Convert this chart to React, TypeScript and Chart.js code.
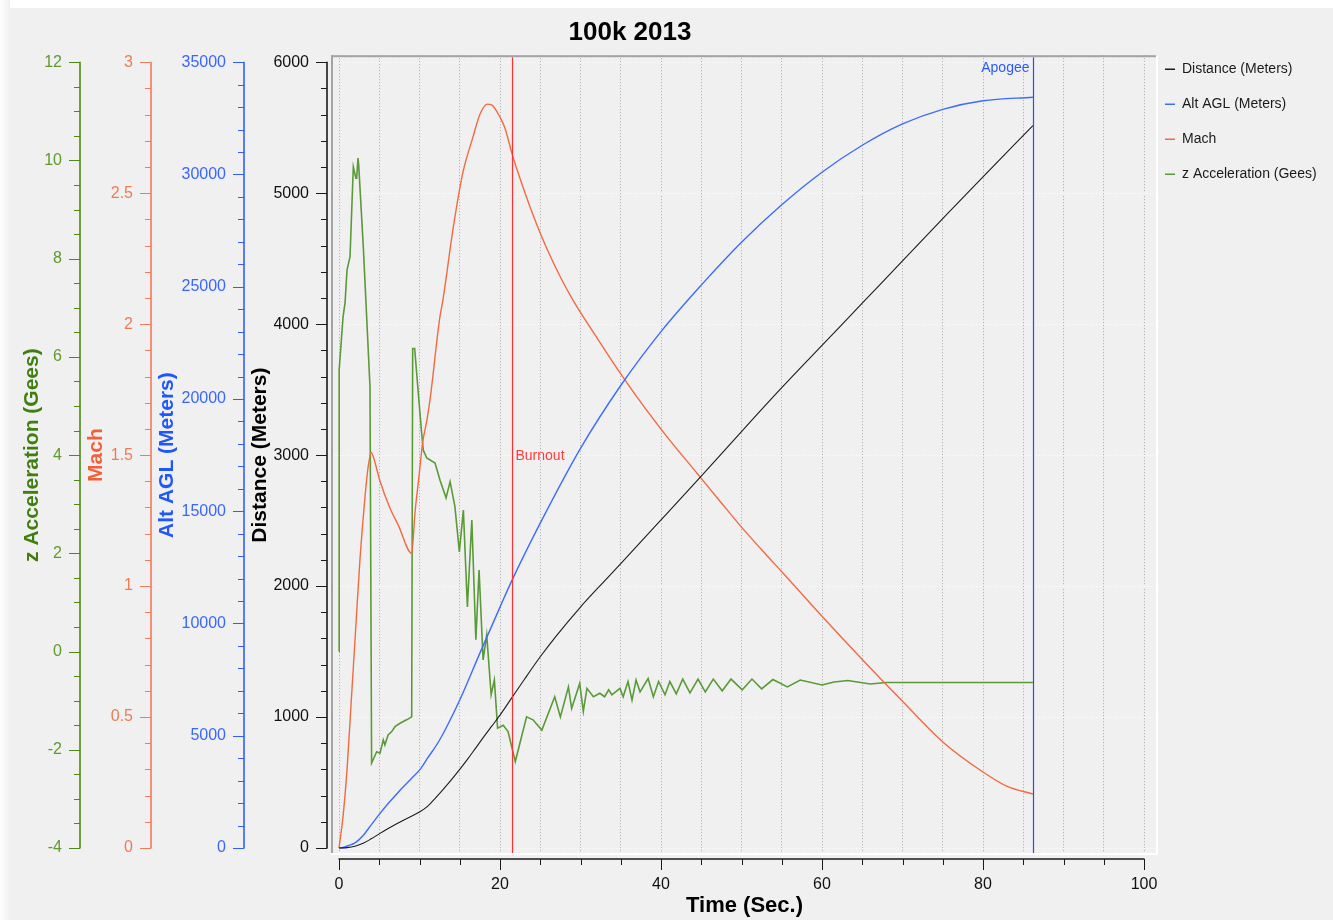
import React, { useEffect, useRef } from "react";
import { Chart, registerables } from "chart.js";

Chart.register(...registerables);

const FONT = "'Liberation Sans', Arial, Helvetica, sans-serif";

// ---------------- data ----------------
const chartTitle = "100k 2013";
const burnoutTime = 21.5;
const apogeeTime = 86.2;

const distanceTime = [0, 1, 2, 3, 4, 5, 6, 7, 8, 9, 10, 11, 12, 13, 14, 15, 16, 17, 18, 19, 20, 21.5, 23, 25, 27, 30, 33, 35, 40, 45, 50, 55, 60, 65, 70, 75, 80, 86.2];
const distanceValues = [0, 3, 14, 36, 70, 108, 145, 180, 212, 243, 275, 318, 383, 452, 524, 600, 680, 765, 850, 932, 1015, 1150, 1285, 1460, 1620, 1840, 2040, 2172, 2505, 2840, 3180, 3515, 3838, 4160, 4483, 4805, 5125, 5515];

const altTime = [0, 0.5, 1, 2, 3, 4, 5, 6, 7, 8, 9, 10, 11, 12.5, 15, 17.5, 20, 21.5, 25, 30, 35, 40, 45, 50, 55, 60, 65, 70, 75, 80, 86.2];
const altValues = [0, 20, 90, 230, 560, 1030, 1500, 1940, 2340, 2730, 3100, 3470, 4000, 4810, 6590, 8680, 10730, 11930, 14470, 17800, 20600, 23000, 25070, 26980, 28650, 30100, 31300, 32250, 32900, 33280, 33440];

const machTime = [0, 0.5, 1, 1.5, 2, 2.6, 3.2, 3.6, 4, 4.3, 5.1, 6.3, 7.4, 9.03, 9.44, 9.94, 10.4, 10.9, 11.3, 12.5, 12.9, 14.2, 15.4, 16.6, 17.5, 18.4, 19, 20, 20.6, 21.5, 22.5, 23.7, 24.7, 25.8, 27.5, 29.1, 32, 35, 38, 41, 44.5, 47.3, 50, 53.2, 55, 60, 65, 70, 75, 80, 83, 86.2];
const machValues = [0, 0.12, 0.3, 0.55, 0.8, 1.1, 1.33, 1.45, 1.51, 1.49, 1.4, 1.3, 1.23, 1.125, 1.28, 1.42, 1.55, 1.63, 1.71, 2.02, 2.09, 2.37, 2.58, 2.71, 2.8, 2.84, 2.836, 2.79, 2.75, 2.65, 2.555, 2.45, 2.37, 2.29, 2.18, 2.09, 1.95, 1.81, 1.68, 1.56, 1.43, 1.325, 1.225, 1.115, 1.055, 0.885, 0.72, 0.56, 0.405, 0.29, 0.235, 0.206];

const accelTime = [0, 0.02, 0.5, 0.75, 1.0, 1.37, 1.78, 2.1, 2.2, 2.36, 2.45, 3.02, 3.85, 4.05, 4.68, 5.09, 5.5, 5.7, 6.1, 6.55, 6.96, 7.58, 8.4, 9.03, 9.15, 9.4, 9.85, 10.27, 10.47, 10.9, 11.93, 12.55, 13.3, 13.8, 14.4, 14.95, 15.45, 15.95, 16.5, 17.0, 17.4, 17.9, 18.35, 18.9, 19.3, 19.7, 20.4, 21.0, 21.9, 23.3, 24.1, 25.2, 26.8, 27.5, 28.5, 28.9, 29.9, 30.35, 30.8, 31.6, 32.4, 33.0, 33.5, 33.9, 34.9, 35.3, 35.9, 36.4, 36.9, 37.4, 38.4, 39.05, 39.7, 40.5, 41.1, 41.9, 42.7, 43.6, 44.6, 45.5, 46.5, 47.6, 48.7, 50.1, 51.3, 52.5, 53.9, 55.7, 57.3, 60.0, 61.5, 63.2, 66.0, 68.0, 86.2];
const accelValues = [0.0, 5.73, 6.81, 7.1, 7.77, 8.04, 9.87, 9.64, 9.64, 10.05, 9.9, 8.24, 5.39, -2.27, -2.04, -2.07, -1.8, -1.9, -1.7, -1.63, -1.53, -1.46, -1.39, -1.33, 6.17, 6.17, 5.26, 4.44, 4.1, 3.94, 3.84, 3.49, 3.13, 3.46, 2.95, 2.03, 2.88, 0.91, 2.68, 0.24, 1.66, -0.17, 0.34, -0.88, -0.58, -1.56, -1.5, -1.63, -2.24, -1.33, -1.39, -1.6, -0.92, -1.33, -0.72, -1.16, -0.65, -1.22, -0.75, -0.92, -0.85, -0.92, -0.78, -0.88, -0.75, -0.92, -0.61, -0.99, -0.58, -0.82, -0.55, -0.92, -0.61, -0.88, -0.61, -0.86, -0.56, -0.84, -0.56, -0.82, -0.56, -0.8, -0.56, -0.78, -0.56, -0.76, -0.57, -0.72, -0.58, -0.68, -0.62, -0.59, -0.66, -0.63, -0.63];

// tick labels
const timeMajorTicks = [0, 20, 40, 60, 80, 100];
const distanceMajorTicks = [0, 1000, 2000, 3000, 4000, 5000, 6000];
const altMajorTicks = [0, 5000, 10000, 15000, 20000, 25000, 30000, 35000];
const machMajorTicks = [0, 0.5, 1, 1.5, 2, 2.5, 3];
const accelMajorTicks = [-4, -2, 0, 2, 4, 6, 8, 10, 12];

// ---------------- helpers ----------------
function subdivide(majors: number[], parts: number): number[] {
  const out: number[] = [];
  for (let i = 0; i < majors.length - 1; i++) {
    const a = majors[i];
    const b = majors[i + 1];
    for (let k = 0; k < parts; k++) out.push(+(a + ((b - a) * k) / parts).toFixed(6));
  }
  out.push(majors[majors.length - 1]);
  return out;
}
function isMajor(v: number, majors: number[]): boolean {
  return majors.some((m) => Math.abs(m - v) < 1e-6);
}

type YAxisSpec = {
  id: string;
  title: string;
  majors: number[];
  parts: number;
  axisColor: string;
  labelColor: string;
  titleColor: string;
  width: number;
  weight: number;
};

const yAxes: YAxisSpec[] = [
  { id: "yDist", title: "Distance (Meters)", majors: distanceMajorTicks, parts: 5, axisColor: "#1a1a1a", labelColor: "#111111", titleColor: "#000000", width: 83, weight: 1 },
  { id: "yAlt", title: "Alt AGL (Meters)", majors: altMajorTicks, parts: 5, axisColor: "#2f5fff", labelColor: "#3a66ff", titleColor: "#1f57ff", width: 93, weight: 2 },
  { id: "yMach", title: "Mach", majors: machMajorTicks, parts: 5, axisColor: "#f27a5a", labelColor: "#f07a55", titleColor: "#f2603a", width: 71, weight: 3 },
  { id: "yAccel", title: "z Acceleration (Gees)", majors: accelMajorTicks, parts: 4, axisColor: "#4a8c12", labelColor: "#5e9a2c", titleColor: "#3f7f10", width: 64, weight: 4 },
];

const PLOT_H = 800;
const AXIS_SPAN = 786;
const padFrac = (PLOT_H - AXIS_SPAN) / 2 / AXIS_SPAN;
const timeTicks = subdivide(timeMajorTicks, 4);

function yScale(spec: YAxisSpec) {
  const lo = spec.majors[0];
  const hi = spec.majors[spec.majors.length - 1];
  const pad = (hi - lo) * padFrac;
  const ticks = subdivide(spec.majors, spec.parts);
  const isDist = spec.id === "yDist";
  return {
    type: "linear",
    position: "left",
    weight: spec.weight,
    min: lo - pad,
    max: hi + pad,
    afterBuildTicks: (s: any) => {
      s.ticks = ticks.map((v) => ({ value: v }));
    },
    afterFit: (s: any) => {
      s.width = spec.width;
    },
    ticks: {
      autoSkip: false,
      padding: 22,
      color: spec.labelColor,
      font: { size: 16, family: FONT },
      callback: (v: any) => (isMajor(Number(v), spec.majors) ? String(+Number(v).toFixed(3)) : ""),
    },
    grid: isDist
      ? {
          display: true,
          drawTicks: false,
          drawOnChartArea: true,
          lineWidth: 1,
          color: (c: any) => (c.tick && isMajor(c.tick.value, spec.majors) ? "#ffffff" : "rgba(0,0,0,0)"),
        }
      : { display: false, drawTicks: false },
    border: { display: false, dash: [1, 2] },
    title: {
      display: true,
      text: spec.title,
      color: spec.titleColor,
      font: { size: 21, weight: "bold", family: FONT },
      padding: 0,
    },
  };
}

function pts(t: number[], v: number[]) {
  return t.map((x, i) => ({ x, y: v[i] }));
}

// ---------------- plugins ----------------
const placementPlugin = {
  id: "placement",
  afterLayout(chart: any) {
    const lg = chart.legend;
    if (lg) {
      const w = lg.width;
      const h = lg.height;
      lg.left = chart.chartArea.right - 14;
      lg.right = lg.left + w;
      lg.top = chart.chartArea.top - 14;
      lg.bottom = lg.top + h;
    }
    const tb = chart.titleBlock;
    if (tb) {
      const w = tb.right - tb.left;
      tb.left = 630 - w / 2;
      tb.right = tb.left + w;
    }
  },
};

const axesPlugin = {
  id: "qwtAxes",
  afterDraw(chart: any) {
    const ctx = chart.ctx;
    const ca = chart.chartArea;
    ctx.save();
    // frame
    ctx.fillStyle = "#a3a3a3";
    ctx.fillRect(ca.left, ca.top, ca.right - ca.left, 2);
    ctx.fillRect(ca.left, ca.top, 2, ca.bottom - ca.top);
    ctx.fillStyle = "#ffffff";
    ctx.fillRect(ca.left, ca.bottom - 2, ca.right - ca.left, 2);
    ctx.fillRect(ca.right - 2, ca.top, 2, ca.bottom - ca.top);

    // y axes
    for (const spec of yAxes) {
      const s = chart.scales[spec.id];
      const x = Math.round(s.right - 4);
      const ticks = subdivide(spec.majors, spec.parts);
      const y0 = s.getPixelForValue(spec.majors[0]);
      const y1 = s.getPixelForValue(spec.majors[spec.majors.length - 1]);
      ctx.strokeStyle = spec.axisColor;
      ctx.lineWidth = 1.6;
      ctx.beginPath();
      ctx.moveTo(x, y0 + 0.5);
      ctx.lineTo(x, y1 - 0.5);
      ctx.stroke();
      ctx.lineWidth = 1;
      ctx.beginPath();
      for (const v of ticks) {
        const y = Math.round(s.getPixelForValue(v)) + 0.5;
        const len = isMajor(v, spec.majors) ? 11 : 6;
        ctx.moveTo(x, y);
        ctx.lineTo(x - len, y);
      }
      ctx.stroke();
    }

    // x axis
    const xs = chart.scales.x;
    const yA = Math.round(ca.bottom + 4);
    ctx.strokeStyle = "#1a1a1a";
    ctx.lineWidth = 1.6;
    ctx.beginPath();
    ctx.moveTo(xs.getPixelForValue(timeMajorTicks[0]) - 0.5, yA);
    ctx.lineTo(xs.getPixelForValue(timeMajorTicks[timeMajorTicks.length - 1]) + 0.5, yA);
    ctx.stroke();
    ctx.lineWidth = 1;
    ctx.beginPath();
    for (const v of timeTicks) {
      const x = Math.round(xs.getPixelForValue(v)) + 0.5;
      const len = isMajor(v, timeMajorTicks) ? 11 : 6;
      ctx.moveTo(x, yA);
      ctx.lineTo(x, yA + len);
    }
    ctx.stroke();
    ctx.restore();
  },
};

const eventsPlugin = {
  id: "flightEvents",
  afterDatasetsDraw(chart: any) {
    const ctx = chart.ctx;
    const ca = chart.chartArea;
    const xs = chart.scales.x;
    ctx.save();
    const bx = Math.round(xs.getPixelForValue(burnoutTime)) + 0.5;
    ctx.strokeStyle = "#ff3030";
    ctx.lineWidth = 1.2;
    ctx.beginPath();
    ctx.moveTo(bx, ca.top + 2);
    ctx.lineTo(bx, ca.bottom - 2);
    ctx.stroke();
    ctx.fillStyle = "#ff3b3b";
    ctx.font = `14px ${FONT}`;
    ctx.textAlign = "left";
    ctx.textBaseline = "middle";
    ctx.fillText("Burnout", bx + 3, (ca.top + ca.bottom) / 2 + 1);

    const ax = Math.round(xs.getPixelForValue(apogeeTime)) + 0.5;
    ctx.strokeStyle = "#2050ff";
    ctx.beginPath();
    ctx.moveTo(ax, ca.top + 2);
    ctx.lineTo(ax, ca.bottom - 2);
    ctx.stroke();
    ctx.fillStyle = "#2a5aff";
    ctx.textAlign = "right";
    ctx.fillText("Apogee", ax - 4, ca.top + 13);
    ctx.restore();
  },
};

export default function App() {
  const ref = useRef<HTMLCanvasElement>(null);

  useEffect(() => {
    if (!ref.current) return;
    Chart.defaults.font.family = FONT;
    const scales: any = {
      x: {
        type: "linear",
        position: "bottom",
        min: (-100 * 8) / 805,
        max: 100 + (100 * 14) / 805,
        afterBuildTicks: (s: any) => {
          s.ticks = timeTicks.map((v) => ({ value: v }));
        },
        afterFit: (s: any) => {
          s.height = 65;
        },
        ticks: {
          autoSkip: false,
          maxRotation: 0,
          padding: 20,
          color: "#111111",
          font: { size: 16, family: FONT },
          callback: (v: any) => (isMajor(Number(v), timeMajorTicks) ? String(Number(v)) : ""),
        },
        grid: { display: true, drawTicks: false, drawOnChartArea: true, color: "#a8a8a8", lineWidth: 1 },
        border: { display: false, dash: [1, 2] },
        title: {
          display: true,
          text: "Time (Sec.)",
          color: "#000000",
          font: { size: 22, weight: "bold", family: FONT },
          padding: { top: 0, bottom: 1 },
        },
      },
    };
    for (const spec of yAxes) scales[spec.id] = yScale(spec);

    const smooth = { cubicInterpolationMode: "monotone" };
    const chart = new Chart(ref.current, {
      type: "line",
      data: {
        datasets: [
          { label: "Distance (Meters)", data: pts(distanceTime, distanceValues), yAxisID: "yDist", borderColor: "#1c1c1c", borderWidth: 1.1, pointBorderWidth: 1.5, ...smooth },
          { label: "Alt AGL (Meters)", data: pts(altTime, altValues), yAxisID: "yAlt", borderColor: "#3d6bff", borderWidth: 1.4, pointBorderWidth: 1.5, ...smooth },
          { label: "Mach", data: pts(machTime, machValues), yAxisID: "yMach", borderColor: "#f26a40", borderWidth: 1.4, pointBorderWidth: 1.5, ...smooth },
          { label: "z Acceleration (Gees)", data: pts(accelTime, accelValues), yAxisID: "yAccel", borderColor: "#5a9a38", borderWidth: 1.6, pointBorderWidth: 1.5 },
        ].map((d) => ({ ...d, pointRadius: 0, pointHoverRadius: 0, pointStyle: "line", fill: false })) as any,
      },
      options: {
        responsive: false,
        animation: false,
        devicePixelRatio: 1,
        events: [],
        layout: { padding: { left: 20, right: 0, top: 0, bottom: 0 } },
        plugins: {
          title: {
            display: true,
            text: chartTitle,
            color: "#000000",
            font: { size: 26, weight: "bold", family: FONT },
            padding: { top: 17, bottom: 7 },
          },
          legend: {
            display: true,
            position: "right",
            align: "start",
            maxWidth: 175,
            labels: {
              usePointStyle: true,
              pointStyle: "line",
              pointStyleWidth: 10,
              padding: 21,
              color: "#1a1a1a",
              font: { size: 14, family: FONT },
            },
          },
          tooltip: { enabled: false },
        },
        scales,
      } as any,
      plugins: [placementPlugin, axesPlugin, eventsPlugin],
    });
    return () => chart.destroy();
  }, []);

  return (
    <div style={{ position: "fixed", left: 0, top: 0, width: 1333, height: 920, background: "#f0f0f0", overflow: "hidden" }}>
      <div style={{ position: "absolute", left: 0, top: 0, width: "100%", height: 8, background: "#ffffff" }} />
      <div style={{ position: "absolute", left: 0, top: 0, width: 10, height: "100%", background: "linear-gradient(to right, #ffffff, #f0f0f0)" }} />
      <canvas ref={ref} width={1333} height={920} style={{ position: "absolute", left: 0, top: 0, width: 1333, height: 920 }} />
    </div>
  );
}
